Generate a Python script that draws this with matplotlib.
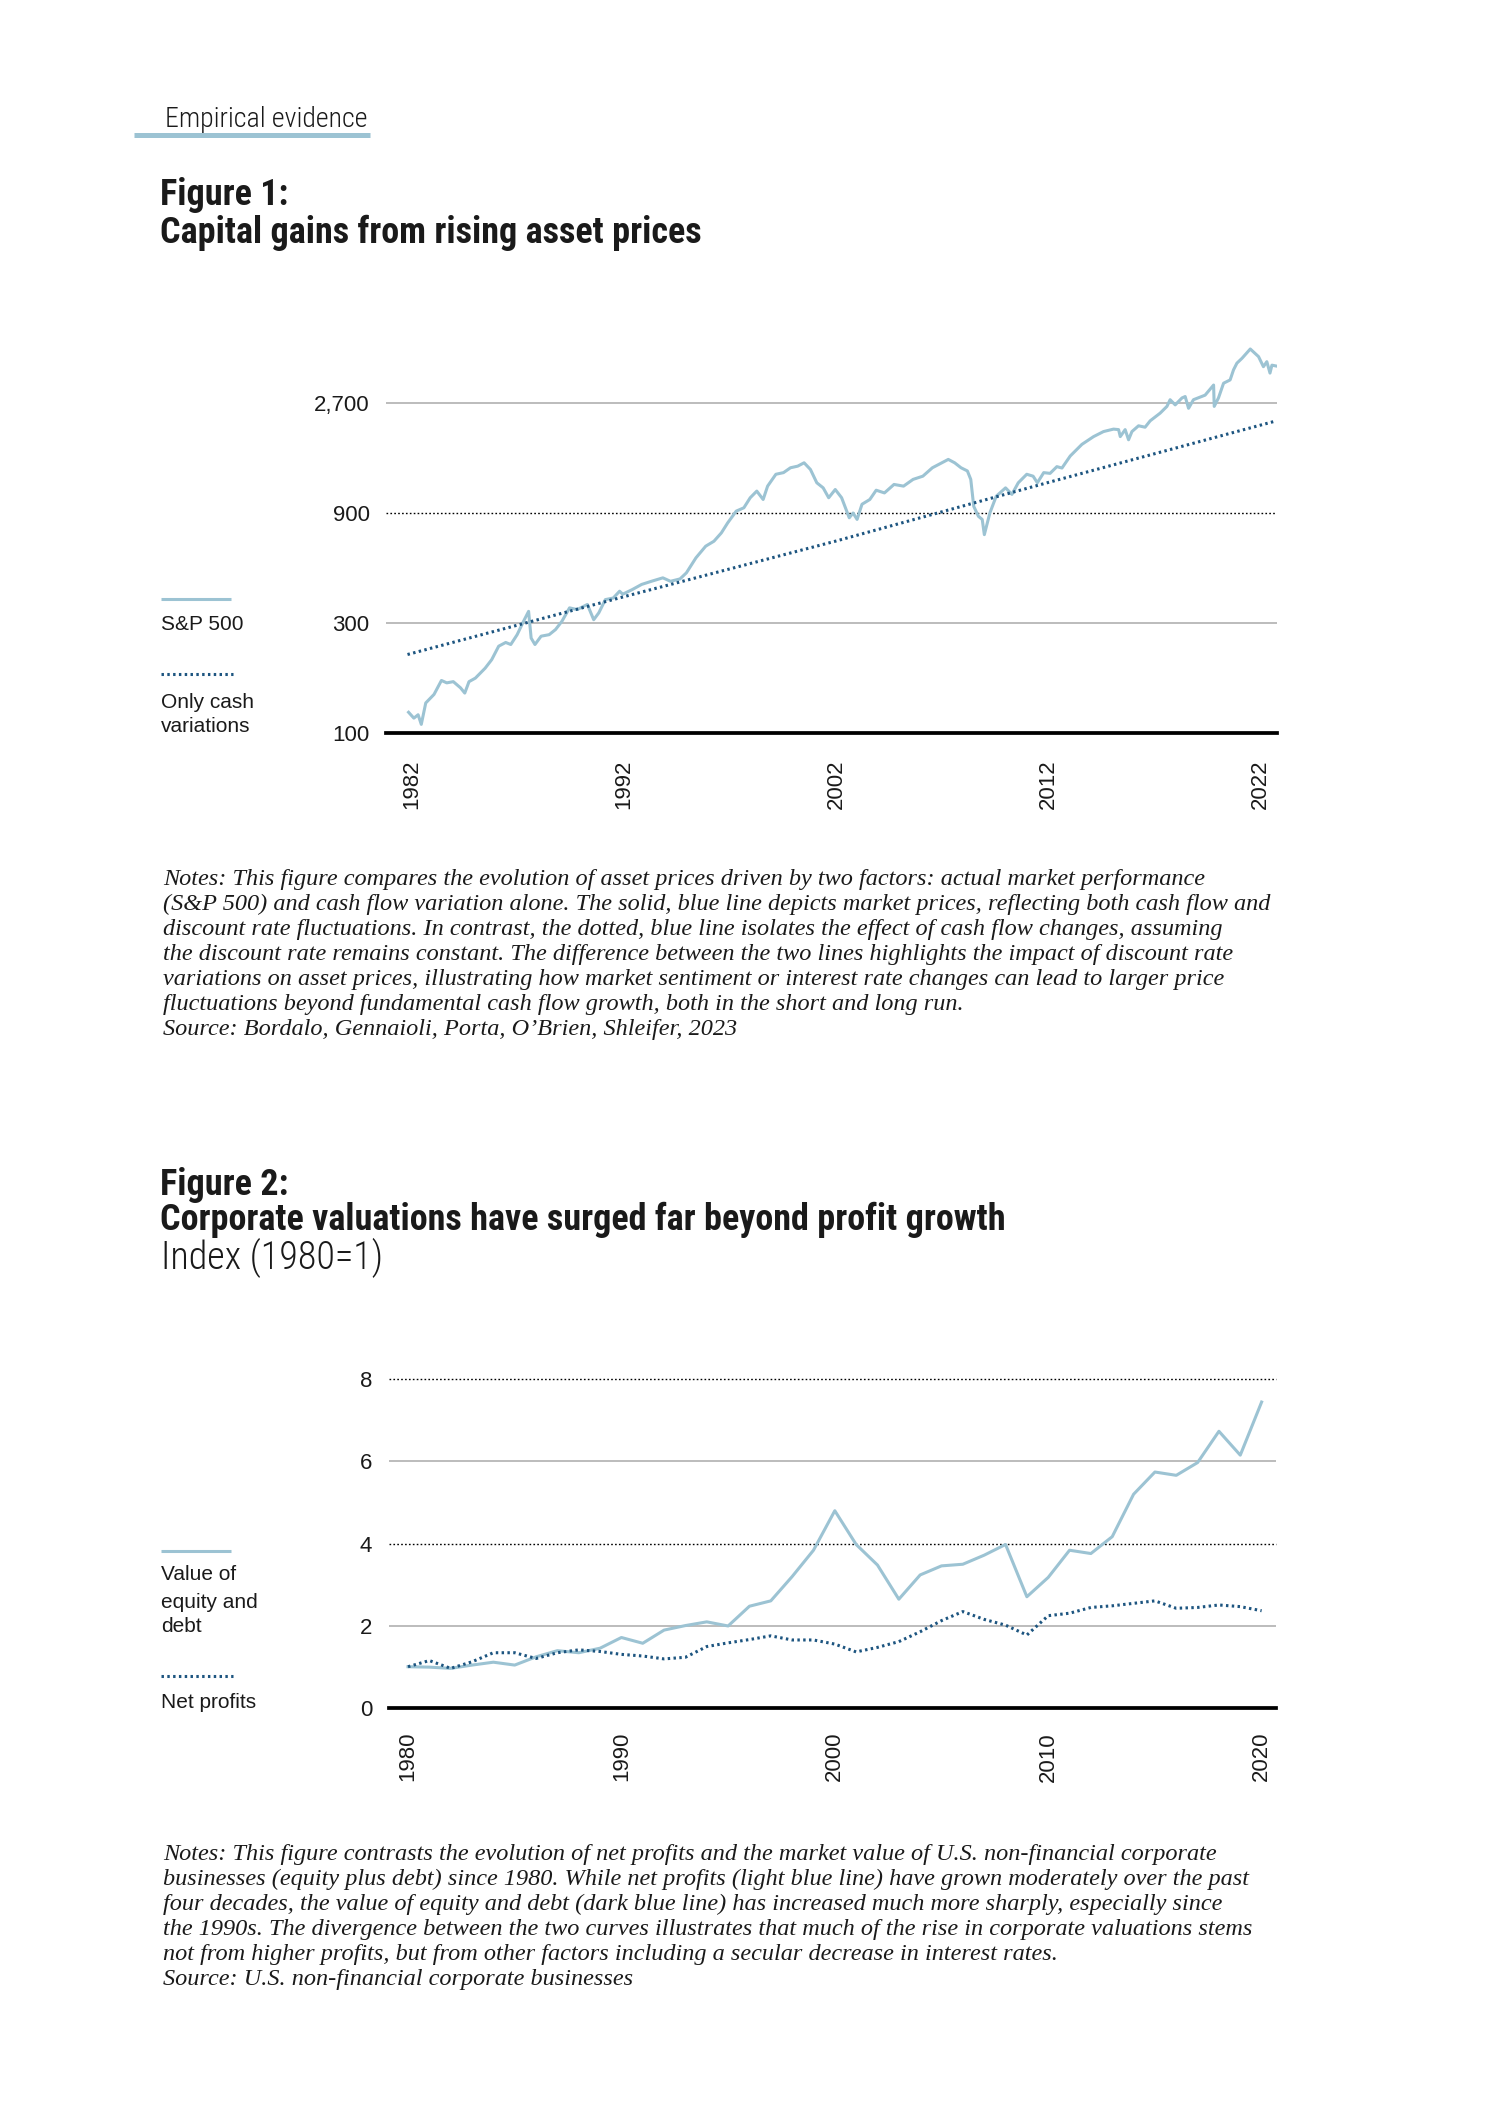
import os
import matplotlib
matplotlib.use('Agg')
import matplotlib.pyplot as plt
from matplotlib import font_manager as fm
from matplotlib.lines import Line2D

# ---------------- data ----------------
sp_years = [1981.85, 1982.1, 1982.3, 1982.45, 1982.66, 1983.05, 1983.4, 1983.65, 1983.96, 1984.3,
            1984.5, 1984.7, 1985.0, 1985.46, 1985.77, 1986.1, 1986.43, 1986.67, 1986.97, 1987.27,
            1987.51, 1987.63, 1987.81, 1988.1, 1988.48, 1988.78, 1989.08, 1989.44, 1989.8, 1990.28,
            1990.58, 1990.82, 1991.13, 1991.5, 1991.8, 1991.95, 1992.4, 1992.84, 1993.3, 1993.84,
            1994.2, 1994.65, 1994.95, 1995.4, 1995.86, 1996.25, 1996.6, 1996.9, 1997.3, 1997.66,
            1997.96, 1998.27, 1998.57, 1998.78, 1999.17, 1999.53, 1999.86, 2000.2, 2000.5, 2000.8,
            2001.1, 2001.4, 2001.66, 2001.97, 2002.27, 2002.48, 2002.63, 2002.81, 2003.0, 2003.23,
            2003.6, 2003.9, 2004.29, 2004.74, 2005.19, 2005.64, 2006.1, 2006.55, 2007.0, 2007.3,
            2007.6, 2007.9, 2008.2, 2008.36, 2008.5, 2008.72, 2008.9, 2009.0, 2009.26, 2009.56,
            2010.0, 2010.3, 2010.6, 2011.0, 2011.3, 2011.5, 2011.8, 2012.1, 2012.42, 2012.66,
            2013.05, 2013.6, 2014.15, 2014.62, 2015.09, 2015.33, 2015.41, 2015.64, 2015.8, 2015.96,
            2016.27, 2016.58, 2016.82, 2017.29, 2017.61, 2017.76, 2018.0, 2018.32, 2018.47, 2018.63,
            2018.86, 2019.41, 2019.81, 2019.84, 2020.04, 2020.28, 2020.59, 2020.75, 2020.91, 2021.15,
            2021.54, 2021.93, 2022.16, 2022.32, 2022.47, 2022.56, 2022.8]
sp_values = [123, 116, 120, 109, 135, 147, 169, 165, 167, 157,
             149, 167, 173, 191, 208, 238, 247, 242, 267, 305,
             337, 258, 242, 263, 267, 281, 305, 349, 343, 361,
             310, 332, 379, 385, 412, 400, 419, 441, 455, 471,
             455, 466, 495, 575, 646, 679, 738, 816, 917, 948,
             1048, 1120, 1030, 1177, 1325, 1347, 1414, 1437, 1486, 1390,
             1217, 1157, 1048, 1138, 1048, 933, 858, 900, 844, 982,
             1030, 1130, 1100, 1197, 1177, 1259, 1300, 1414, 1486, 1537,
             1486, 1414, 1370, 1259, 962, 871, 844, 725, 900, 1064,
             1157, 1084, 1217, 1325, 1300, 1217, 1347, 1337, 1430, 1410,
             1590, 1786, 1930, 2030, 2080, 2070, 1930, 2070, 1870, 2030,
             2150, 2120, 2260, 2440, 2610, 2790, 2650, 2840, 2880, 2560,
             2790, 2920, 3230, 2610, 2840, 3290, 3400, 3760, 4020, 4220,
             4630, 4290, 3880, 4080, 3640, 3940, 3900]
cash_years = [1981.8, 1992, 2002, 2012, 2022.7]
cash_values = [219, 390, 680, 1220, 2250]

fig1_yticks = [100, 300, 900, 2700]
fig1_ytick_labels = ['100', '300', '900', '2,700']
fig1_xticks = [1982, 1992, 2002, 2012, 2022]

fig2_years = list(range(1980, 2021))
equity_debt = [1.01, 1.00, 0.97, 1.05, 1.12, 1.05, 1.25, 1.40, 1.35, 1.46,
               1.72, 1.58, 1.90, 2.01, 2.10, 2.00, 2.48, 2.61, 3.20, 3.84,
               4.80, 3.98, 3.48, 2.65, 3.24, 3.46, 3.50, 3.72, 3.98, 2.71,
               3.18, 3.84, 3.76, 4.17, 5.20, 5.74, 5.66, 5.97, 6.73, 6.15,
               7.44]
net_profits = [1.01, 1.16, 0.97, 1.13, 1.35, 1.35, 1.21, 1.35, 1.42, 1.38,
               1.31, 1.27, 1.20, 1.24, 1.50, 1.59, 1.67, 1.76, 1.66, 1.66,
               1.56, 1.37, 1.48, 1.62, 1.86, 2.13, 2.35, 2.16, 2.02, 1.78,
               2.25, 2.31, 2.45, 2.49, 2.55, 2.61, 2.43, 2.45, 2.51, 2.47,
               2.37]
fig2_yticks = [0, 2, 4, 6, 8]
fig2_xticks = [1980, 1990, 2000, 2010, 2020]

notes1 = [
    "Notes: This figure compares the evolution of asset prices driven by two factors: actual market performance",
    "(S&P 500) and cash flow variation alone. The solid, blue line depicts market prices, reflecting both cash flow and",
    "discount rate fluctuations. In contrast, the dotted, blue line isolates the effect of cash flow changes, assuming",
    "the discount rate remains constant. The difference between the two lines highlights the impact of discount rate",
    "variations on asset prices, illustrating how market sentiment or interest rate changes can lead to larger price",
    "fluctuations beyond fundamental cash flow growth, both in the short and long run.",
    "Source: Bordalo, Gennaioli, Porta, O\u2019Brien, Shleifer, 2023",
]
notes2 = [
    "Notes: This figure contrasts the evolution of net profits and the market value of U.S. non-financial corporate",
    "businesses (equity plus debt) since 1980. While net profits (light blue line) have grown moderately over the past",
    "four decades, the value of equity and debt (dark blue line) has increased much more sharply, especially since",
    "the 1990s. The divergence between the two curves illustrates that much of the rise in corporate valuations stems",
    "not from higher profits, but from other factors including a secular decrease in interest rates.",
    "Source: U.S. non-financial corporate businesses",
]

# ---------------- style ----------------
W, H, DPI = 1500, 2121, 100
LIGHT = '#9cc3d3'
DARK = '#1d5580'
TXT = '#1a1a1a'
GRID = '#aaaaaa'

names = {f.name for f in fm.fontManager.ttflist}
files = {os.path.basename(f.fname).lower(): f.fname for f in fm.fontManager.ttflist}


def pick(*c):
    for n in c:
        if n in names:
            return n
    return 'DejaVu Sans'


def pick_file(cands, fallback):
    for c in cands:
        if c.lower() in files:
            return fm.FontProperties(fname=files[c.lower()])
    return fallback


SANS = pick('Liberation Sans', 'Arial', 'DejaVu Sans')
SERIF = pick('Liberation Serif', 'DejaVu Serif')

FP_TITLE = pick_file(['LiberationSansNarrow-Bold.ttf', 'RobotoCondensed-Bold.ttf',
                      'NotoSans-CondensedBold.ttf', 'NotoSans-CondensedExtraBold.ttf',
                      'OpenSans-CondensedBold.ttf', 'OpenSans_Condensed-Bold.ttf',
                      'DejaVuSansCondensed-Bold.ttf'],
                     fm.FontProperties(family='DejaVu Sans', weight='bold', stretch='condensed'))
FP_LIGHT = pick_file(['LiberationSansNarrow-Regular.ttf', 'RobotoCondensed-Light.ttf',
                      'NotoSans-CondensedLight.ttf', 'NotoSans-Condensed.ttf',
                      'OpenSans-CondensedLight.ttf', 'OpenSans_Condensed-Light.ttf',
                      'DejaVuSansCondensed.ttf'],
                     fm.FontProperties(family='DejaVu Sans', stretch='condensed'))
FP_NOTES = fm.FontProperties(family=SERIF, style='italic')

fig = plt.figure(figsize=(W / DPI, H / DPI), dpi=DPI)
fig.patch.set_facecolor('white')
renderer = fig.canvas.get_renderer()


def fx(x):
    return x / W


def fy(y):
    return 1 - y / H


def text_width(s, fp, size):
    fp = fp.copy()
    fp.set_size(size)
    t = fig.text(0, 0, s, fontproperties=fp)
    w = t.get_window_extent(renderer).width
    t.remove()
    return w


def fitsize(s, fp, target_w, size=16):
    return size * target_w / text_width(s, fp, size)


def place(x, yc, s, fp, size, cap=0.36):
    fp = fp.copy()
    fp.set_size(size)
    return fig.text(fx(x), fy(yc + cap * size * DPI / 72), s, fontproperties=fp,
                    va='baseline', ha='left', color=TXT)


def sans(size):
    return fm.FontProperties(family=SANS, size=size)


# ---------------- header ----------------
place(165, 117, "Empirical evidence", FP_LIGHT, fitsize("Empirical evidence", FP_LIGHT, 203))
fig.add_artist(Line2D([fx(134), fx(370)], [fy(135), fy(135)], color=LIGHT, lw=3.6,
                      solid_capstyle='butt'))

tsize = fitsize("Corporate valuations have surged far beyond profit growth", FP_TITLE, 846)
place(160, 192, "Figure 1:", FP_TITLE, tsize)
place(160, 230, "Capital gains from rising asset prices", FP_TITLE, tsize)

# ---------------- figure 1 ----------------
ax1 = fig.add_axes([fx(386.3), fy(733), (1277 - 386.3) / W, (733 - 341.3) / H])
ax1.set_yscale('log')
ax1.set_ylim(100, 5000)
ax1.set_xlim(1980.8, 2022.8)
for v, st in zip(fig1_yticks, ['base', 'solid', 'dot', 'solid']):
    if st == 'base':
        ax1.axhline(v, color='black', lw=2.7, clip_on=False, zorder=5)
    elif st == 'solid':
        ax1.axhline(v, color=GRID, lw=1.1, zorder=1)
    else:
        ax1.axhline(v, color='black', lw=1.0, ls=(0, (1.2, 1.6)), zorder=1)
ax1.plot(sp_years, sp_values, color=LIGHT, lw=2.2, zorder=3, solid_joinstyle='round')
ax1.plot(cash_years, cash_values, color=DARK, lw=2.2, ls=(0, (0.8, 1.1)), zorder=4)
ax1.set_yticks(fig1_yticks)
ax1.set_yticklabels(fig1_ytick_labels)
ax1.yaxis.set_minor_locator(matplotlib.ticker.NullLocator())
ax1.set_xticks(fig1_xticks)
ax1.set_xticklabels([str(v) for v in fig1_xticks], rotation=90)
ax1.tick_params(axis='both', length=0, labelsize=16, colors=TXT)
ax1.tick_params(axis='y', pad=12)
ax1.tick_params(axis='x', pad=19)
for lab in ax1.get_xticklabels() + ax1.get_yticklabels():
    lab.set_family(SANS)
for sp in ax1.spines.values():
    sp.set_visible(False)
ax1.patch.set_alpha(0)

# legend 1
fig.add_artist(Line2D([fx(161), fx(231)], [fy(599), fy(599)], color=LIGHT, lw=2.2,
                      solid_capstyle='butt'))
place(161, 623, "S&P 500", sans(15), 15)
fig.add_artist(Line2D([fx(161), fx(233)], [fy(674), fy(674)], color=DARK, lw=2.2,
                      ls=(0, (0.8, 1.1))))
place(161, 700, "Only cash", sans(15), 15)
place(161, 724, "variations", sans(15), 15)

# notes 1
nsize = fitsize(notes1[1], FP_NOTES, 1108)
for i, line in enumerate(notes1):
    place(163, 878 + 25 * i, line, FP_NOTES, nsize, cap=0.3)

# ---------------- figure 2 ----------------
place(160, 1182, "Figure 2:", FP_TITLE, tsize)
place(160, 1217, "Corporate valuations have surged far beyond profit growth", FP_TITLE, tsize)
place(161, 1255, "Index (1980=1)", FP_LIGHT, fitsize("Index (1980=1)", FP_LIGHT, 222))

ax2 = fig.add_axes([fx(388.8), fy(1708.3), (1275.7 - 388.8) / W, (1708.3 - 1379) / H])
ax2.set_ylim(0, 8)
ax2.set_xlim(1979.1, 2020.66)
for v, st in zip(fig2_yticks, ['base', 'solid', 'dot', 'solid', 'dot']):
    if st == 'base':
        ax2.axhline(v, color='black', lw=2.7, clip_on=False, zorder=5)
    elif st == 'solid':
        ax2.axhline(v, color=GRID, lw=1.1, zorder=1)
    else:
        ax2.axhline(v, color='black', lw=1.0, ls=(0, (1.2, 1.6)), zorder=1, clip_on=False)
ax2.plot(fig2_years, equity_debt, color=LIGHT, lw=2.2, zorder=3)
ax2.plot(fig2_years, net_profits, color=DARK, lw=2.2, ls=(0, (0.8, 1.1)), zorder=4)
ax2.set_yticks(fig2_yticks)
ax2.set_yticklabels([str(v) for v in fig2_yticks])
ax2.set_xticks(fig2_xticks)
ax2.set_xticklabels([str(v) for v in fig2_xticks], rotation=90)
ax2.tick_params(axis='both', length=0, labelsize=16, colors=TXT)
ax2.tick_params(axis='y', pad=12)
ax2.tick_params(axis='x', pad=17)
for lab in ax2.get_xticklabels() + ax2.get_yticklabels():
    lab.set_family(SANS)
for sp in ax2.spines.values():
    sp.set_visible(False)
ax2.patch.set_alpha(0)

# legend 2
fig.add_artist(Line2D([fx(161), fx(231)], [fy(1551), fy(1551)], color=LIGHT, lw=2.2,
                      solid_capstyle='butt'))
place(161, 1573, "Value of", sans(15), 15)
place(161, 1600, "equity and", sans(15), 15)
place(161, 1625, "debt", sans(15), 15)
fig.add_artist(Line2D([fx(161), fx(233)], [fy(1676), fy(1676)], color=DARK, lw=2.2,
                      ls=(0, (0.8, 1.1))))
place(161, 1700, "Net profits", sans(15), 15)

# notes 2
for i, line in enumerate(notes2):
    place(163, 1853 + 25 * i, line, FP_NOTES, nsize, cap=0.3)

fig.savefig('out.png', dpi=DPI, facecolor='white')
